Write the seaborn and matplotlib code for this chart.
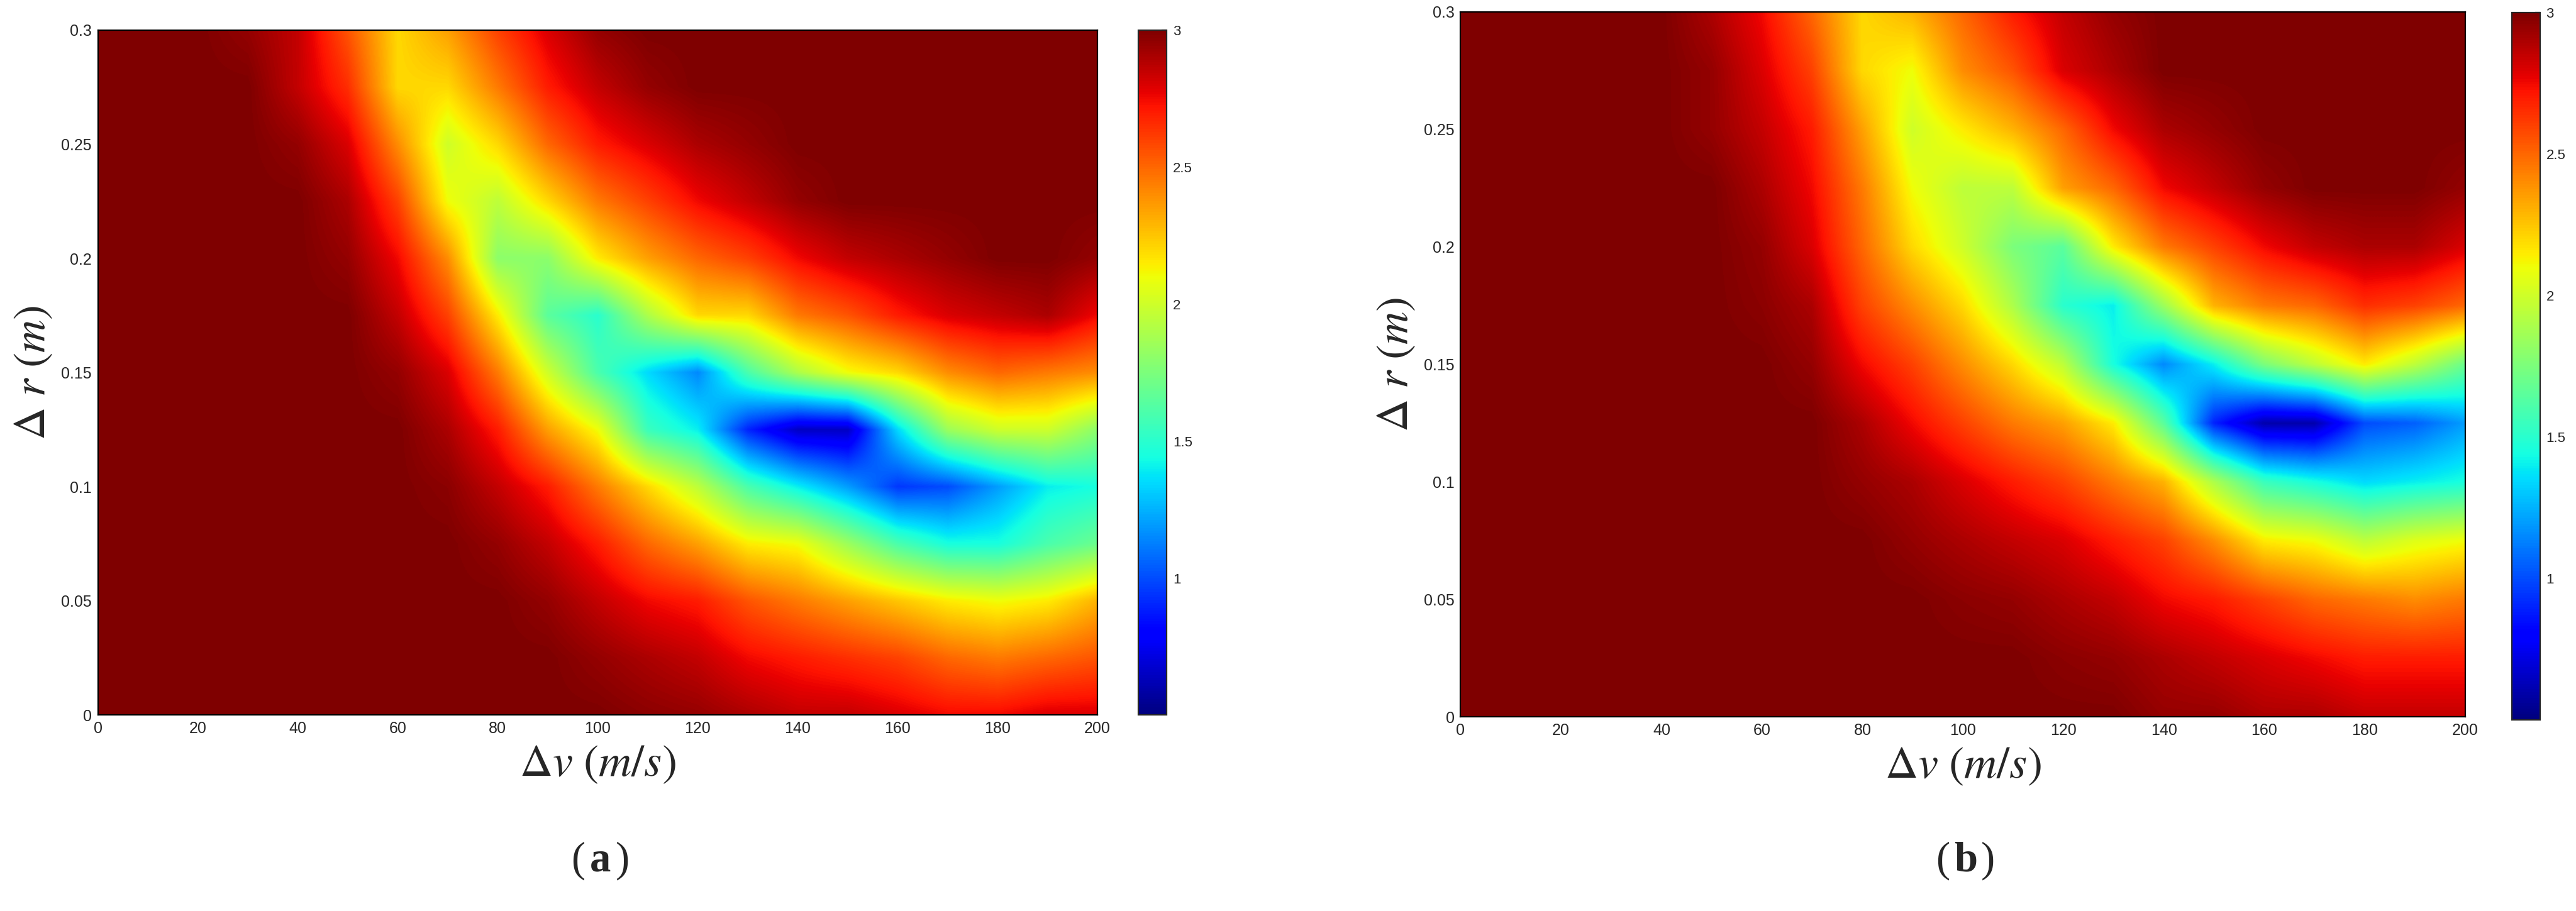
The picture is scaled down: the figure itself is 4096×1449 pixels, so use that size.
import numpy as np
import matplotlib
matplotlib.use("Agg")
import matplotlib.pyplot as plt
import seaborn as sns

sns.set_style("white")
plt.rcParams['font.family'] = ['Liberation Sans', 'DejaVu Sans']
plt.rcParams['mathtext.fontset'] = 'stix'

v_vals = list(range(0, 201, 10))
r_vals = [0, 0.025, 0.05, 0.075, 0.1, 0.125, 0.15, 0.175, 0.2, 0.225, 0.25, 0.275, 0.3]
x_ticks = list(range(0, 201, 20))
y_ticks = [0, 0.05, 0.1, 0.15, 0.2, 0.25, 0.3]
y_tick_labels = ["0", "0.05", "0.1", "0.15", "0.2", "0.25", "0.3"]
cbar_ticks = [1, 1.5, 2, 2.5, 3]

F = [3] * 13
# columns (r = 0 -> 0.3) for each v in v_vals
cols_a = [
    F, F, F,
    [3,3,3,3,3,3,3,3,3,3,3,3,2.95],
    [3,3,3,3,3,3,3,3,3,3,2.95,2.85,2.85],
    [3,3,3,3,3,3,3,3,2.95,2.9,2.8,2.65,2.55],
    [3,3,3,3,3,3,2.95,2.85,2.75,2.6,2.4,2.2,2.2],
    [3,3,3,3,2.97,2.9,2.8,2.6,2.4,2.1,2.0,2.2,2.35],
    [3,3,3,2.95,2.85,2.7,2.45,2.15,1.8,1.95,2.2,2.45,2.6],
    [3,3,2.95,2.85,2.7,2.35,2.0,1.65,1.8,2.2,2.5,2.7,2.8],
    [3,2.95,2.85,2.7,2.45,2.1,1.6,1.5,2.15,2.45,2.7,2.85,2.95],
    [2.97,2.9,2.75,2.5,2.2,1.55,1.35,1.9,2.35,2.6,2.8,2.95,3],
    [2.95,2.85,2.7,2.35,1.95,1.4,1.15,2.2,2.5,2.75,2.9,3,3],
    [2.9,2.75,2.55,2.15,1.6,0.9,1.6,2.2,2.6,2.85,2.95,3,3],
    [2.85,2.7,2.45,2.1,1.4,0.65,1.9,2.45,2.75,2.95,3,3,3],
    [2.85,2.65,2.35,1.85,1.2,0.65,2.1,2.55,2.85,3,3,3,3],
    [2.8,2.6,2.25,1.6,0.95,1.35,2.2,2.7,2.9,3,3,3,3],
    [2.75,2.5,2.15,1.45,1.0,1.85,2.4,2.8,2.95,3,3,3,3],
    [2.75,2.45,2.1,1.45,1.2,2.0,2.5,2.85,3,3,3,3,3],
    [2.8,2.5,2.15,1.6,1.4,2.0,2.45,2.9,3,3,3,3,3],
    [2.8,2.55,2.3,1.7,1.45,1.8,2.4,2.75,2.95,3,3,3,3],
]
cols_b = [
    F, F, F, F, F,
    [3,3,3,3,3,3,3,3,3,3,2.95,2.95,2.9],
    [3,3,3,3,3,3,3,2.97,2.95,2.9,2.85,2.8,2.75],
    [3,3,3,3,3,3,2.95,2.9,2.8,2.75,2.7,2.6,2.5],
    [3,3,3,3,2.95,2.9,2.75,2.6,2.5,2.45,2.35,2.2,2.2],
    [3,3,3,2.95,2.9,2.75,2.6,2.4,2.2,2.1,2.0,2.1,2.3],
    [3,3,2.97,2.9,2.8,2.6,2.4,2.2,2.0,1.95,2.15,2.4,2.5],
    [3,3,2.95,2.85,2.7,2.45,2.2,1.9,1.75,1.95,2.3,2.55,2.7],
    [3,2.97,2.9,2.8,2.6,2.35,1.95,1.5,1.65,2.35,2.5,2.8,2.85],
    [3,2.95,2.85,2.7,2.45,2.15,1.45,1.4,2.15,2.5,2.75,2.9,2.95],
    [2.95,2.9,2.75,2.6,2.3,1.65,1.15,1.85,2.45,2.75,2.9,3,3],
    [2.95,2.85,2.7,2.4,1.9,0.9,1.4,2.3,2.6,2.85,2.95,3,3],
    [2.9,2.8,2.6,2.15,1.55,0.6,1.75,2.45,2.75,2.95,3,3,3],
    [2.9,2.75,2.5,2.1,1.45,0.6,1.95,2.5,2.85,3,3,3,3],
    [2.85,2.7,2.45,1.95,1.35,1.0,2.15,2.65,2.9,3,3,3,3],
    [2.85,2.7,2.4,2.05,1.4,1.05,1.95,2.6,2.9,3,3,3,3],
    [2.85,2.7,2.45,2.1,1.45,1.2,1.7,2.5,2.8,2.95,3,3,3],
]

dv = (v_vals[1] - v_vals[0]) / 2
dr = (r_vals[1] - r_vals[0]) / 2

fig = plt.figure(figsize=(20.48, 7.245), dpi=200)
panels = [
    (cols_a, [0.038, 0.215, 0.388, 0.752], [0.442, 0.215, 0.011, 0.752], "a", 0.233),
    (cols_b, [0.567, 0.213, 0.390, 0.774], [0.975, 0.210, 0.011, 0.776], "b", 0.763),
]
for cols, axr, cbr, lab, lx in panels:
    Z = np.array(cols, dtype=float).T
    ax = fig.add_axes(axr)
    cax = fig.add_axes(cbr)
    im = ax.imshow(Z, origin="lower", aspect="auto", cmap="jet", vmin=0.5, vmax=3,
                   extent=[v_vals[0] - dv, v_vals[-1] + dv, r_vals[0] - dr, r_vals[-1] + dr],
                   interpolation="bilinear")
    ax.set_xlim(0, 200)
    ax.set_ylim(0, 0.3)
    ax.set_xticks(x_ticks)
    ax.set_yticks(y_ticks)
    ax.set_yticklabels(y_tick_labels)
    ax.tick_params(labelsize=9, length=3, direction="in")
    ax.set_xlabel(r"$\Delta\mathit{v}\ (\mathit{m/s})$", fontsize=26, labelpad=4)
    ax.set_ylabel(r"$\Delta\ \mathit{r}\ (\mathit{m})$", fontsize=26, labelpad=4)
    for s in ax.spines.values():
        s.set_visible(True); s.set_color("black"); s.set_linewidth(0.8)
    cb = fig.colorbar(im, cax=cax, ticks=cbar_ticks)
    cb.ax.set_yticklabels(["1", "1.5", "2", "2.5", "3"])
    cb.ax.tick_params(labelsize=8, length=3, direction="in")
    cb.outline.set_linewidth(0.8)
    fig.text(lx - 0.006, 0.055, "(", ha="right", va="center", fontsize=24, family=["Liberation Serif"])
    fig.text(lx, 0.055, lab, ha="center", va="center", fontsize=24, fontweight="bold", family=["Liberation Serif"])
    fig.text(lx + 0.006, 0.055, ")", ha="left", va="center", fontsize=24, family=["Liberation Serif"])

fig.savefig("out.png", dpi=200, facecolor="white")
